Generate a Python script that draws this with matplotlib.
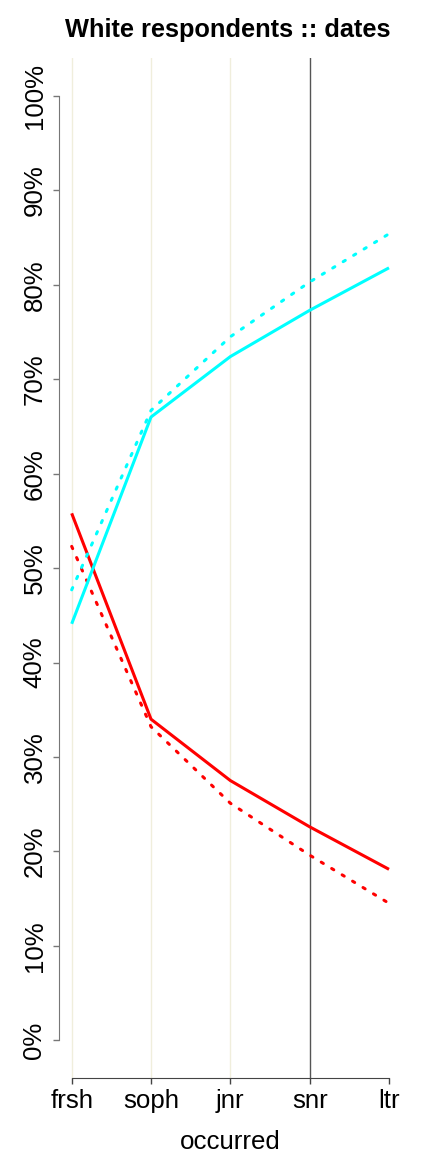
import matplotlib
matplotlib.use("Agg")
import matplotlib.pyplot as plt

years=["frsh","soph","jnr","snr","ltr"]
red_solid=[55.8,34.0,27.5,22.6,18.1]
red_dashed=[52.3,33.2,25.1,19.6,14.5]
cyan_solid=[44.1,66.0,72.4,77.3,81.8]
cyan_dashed=[47.7,66.7,74.5,80.3,85.4]
yticks=[0,10,20,30,40,50,60,70,80,90,100]
beige_at=["frsh","soph","jnr"];dark_at="snr"

plt.rcParams["font.family"]=["Liberation Sans","DejaVu Sans"]
fig=plt.figure(figsize=(4.32,11.52),dpi=100)
ax=fig.add_axes([59/432,1-1078/1152,(401.7-59)/432,(1078-58.2)/1152])
x=list(range(len(years)))
for name in beige_at:ax.axvline(years.index(name),color="#F0EEDC",lw=1,zorder=1)
ax.axvline(years.index(dark_at),color="#555555",lw=1,zorder=1)
lw=2.2;dots=(0,(0.8,3.2))
ax.plot(x,red_solid,color="#FF0000",lw=lw,zorder=3,solid_capstyle="butt")
ax.plot(x,red_dashed,color="#FF0000",lw=lw,zorder=3,linestyle=dots,dash_capstyle="round")
ax.plot(x,cyan_solid,color="#00FFFF",lw=lw,zorder=3,solid_capstyle="butt")
ax.plot(x,cyan_dashed,color="#00FFFF",lw=lw,zorder=3,linestyle=dots,dash_capstyle="round")
ax.set_xlim(-0.16,len(years)-1+0.16);ax.set_ylim(-4,104)
for s in ("top","right"):ax.spines[s].set_visible(False)
ax.spines["left"].set_bounds(0,100);ax.spines["bottom"].set_bounds(0,len(years)-1)
ax.spines["left"].set_color("#777777");ax.spines["bottom"].set_color("#444444")
fs=18.6
ax.set_xticks(x,years,fontsize=fs)
ax.set_yticks(yticks,[f"{v}%" for v in yticks],fontsize=fs,rotation=90,va="center")
ax.tick_params(axis="y",length=4,width=1,color="#777777",pad=5)
ax.tick_params(axis="x",length=4,width=1,color="#444444",pad=4)
ax.set_xlabel("occurred",fontsize=fs,labelpad=12)
fig.text(228/432,1-30/1152,"White respondents :: dates",fontsize=18.3,fontweight="bold",ha="center",va="center")
fig.savefig("out.png",dpi=100)
